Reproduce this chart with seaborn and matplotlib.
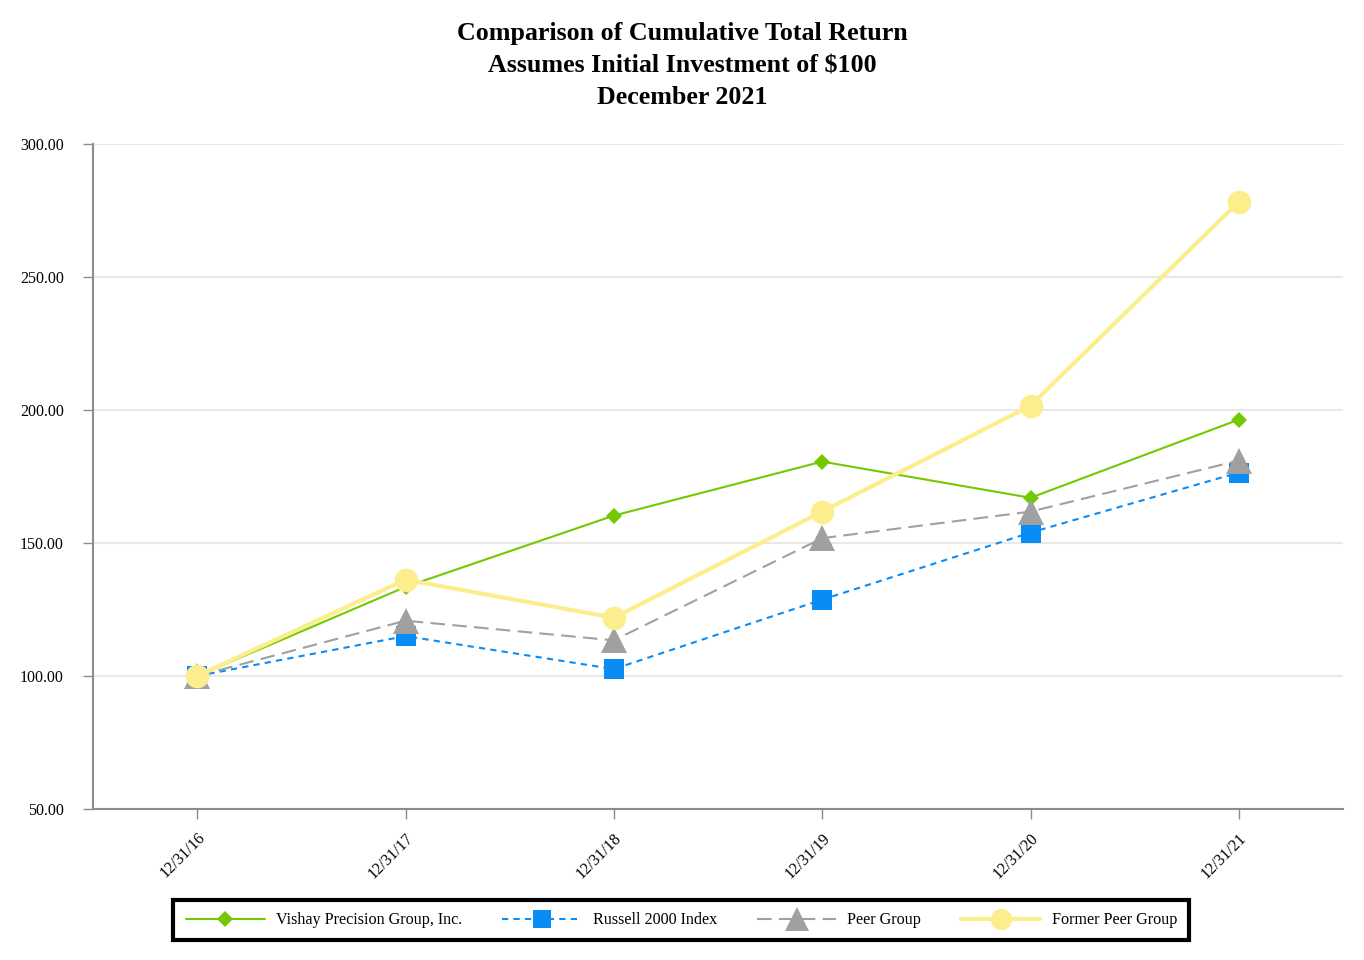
import matplotlib
matplotlib.use("Agg")
import matplotlib.pyplot as plt
import seaborn as sns

# Data
dates = ["12/31/16", "12/31/17", "12/31/18", "12/31/19", "12/31/20", "12/31/21"]
vishay = [100.00, 133.5, 160.3, 180.6, 167.0, 196.4]
russell = [100.00, 115.0, 102.6, 128.7, 153.9, 176.5]
peer = [100.00, 120.8, 113.4, 151.8, 161.8, 181.0]
former_peer = [100.00, 136.2, 121.9, 161.8, 201.6, 278.3]
yticks = [50, 100, 150, 200, 250, 300]

sns.set_style("white")
plt.rcParams['font.family'] = ['Liberation Serif', 'DejaVu Serif']
plt.rcParams['text.color'] = 'black'

fig = plt.figure(figsize=(13.64, 9.6), dpi=100)
ax = fig.add_axes([0.0682, 0.1573, 0.9164, 0.6927])

x = list(range(len(dates)))

sns.lineplot(x=x, y=vishay, ax=ax, color="#74c800", linewidth=1.5,
             marker="D", markersize=8.5, markeredgewidth=0,
             label="Vishay Precision Group, Inc.")
sns.lineplot(x=x, y=russell, ax=ax, color="#0a8cf5", linewidth=1.5,
             linestyle=(0, (3, 2.5)), marker="s", markersize=14.5, markeredgewidth=0,
             label="Russell 2000 Index")
sns.lineplot(x=x, y=peer, ax=ax, color="#a0a0a0", linewidth=1.5,
             linestyle=(0, (7, 3.5)), marker="^", markersize=18.5, markeredgewidth=0,
             label="Peer Group")
sns.lineplot(x=x, y=former_peer, ax=ax, color="#fcee8c", linewidth=3,
             marker="o", markersize=17, markeredgewidth=0,
             label="Former Peer Group")

ax.set_xlim(-0.5, 5.5)
ax.set_ylim(50, 300)
ax.set_yticks(yticks)
ax.set_yticklabels([f"{v:.2f}" for v in yticks], fontsize=11.5, va="center_baseline")
ax.set_xticks(x)
ax.set_xticklabels(dates, rotation=45, ha="right", rotation_mode="anchor", fontsize=11.5)

ax.grid(axis="y", color="#e8e8e8", linewidth=1.5)
ax.set_axisbelow(True)
for s in ["top", "right"]:
    ax.spines[s].set_visible(False)
for s in ["left", "bottom"]:
    ax.spines[s].set_color("#8c8c8c")
    ax.spines[s].set_linewidth(1.5)
ax.tick_params(axis="both", direction="out", length=7, width=1, color="#8c8c8c",
               labelcolor="black", left=True, bottom=True)
ax.tick_params(axis="y", pad=14)
ax.tick_params(axis="x", pad=8)

fig.text(0.5, 0.886, "Comparison of Cumulative Total Return\nAssumes Initial Investment of $100\nDecember 2021",
         ha="center", va="bottom", fontsize=18.7, fontweight="bold", linespacing=1.5,
         color="black")

ax.legend_.remove()
handles, labels = ax.get_legend_handles_labels()
leg = fig.legend(handles, labels, loc="center", bbox_to_anchor=(0.4995, 0.0415), ncol=4,
                 fontsize=11.6, frameon=True, fancybox=False, edgecolor="black",
                 framealpha=1, handlelength=4.9, handletextpad=0.7, columnspacing=2.5,
                 markerscale=0.9, borderpad=0.75, borderaxespad=0)
leg.get_frame().set_linewidth(3)

fig.savefig("out.png", dpi=100)
